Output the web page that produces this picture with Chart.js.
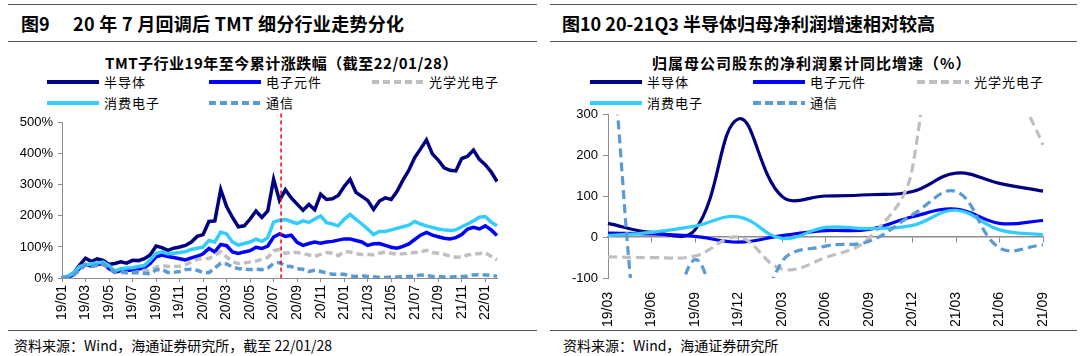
<!DOCTYPE html>
<html><head><meta charset="utf-8">
<script src="https://cdn.jsdelivr.net/npm/chart.js@4.4.1/dist/chart.umd.min.js"></script>
<style>
html,body{margin:0;padding:0;background:#fff;width:1080px;height:356px;overflow:hidden;font-family:"Noto Sans CJK SC","Liberation Sans",sans-serif;color:#000;}
.rule{position:absolute;height:0;border-top:1.5px solid #555;}
.txt{position:absolute;white-space:pre;line-height:1;}
.hdr{font-weight:700;font-size:18px;}
.ttl{font-weight:700;font-size:15px;}
.leg{font-size:13px;}
.foot{font-size:14px;}
.sw{position:absolute;height:4px;}
canvas{position:absolute;}
</style></head><body>
<div class="rule" style="left:8px;top:4px;width:529px"></div>
<div class="rule" style="left:8px;top:41px;width:529px"></div>
<div class="rule" style="left:8px;top:330px;width:529px"></div>
<div class="rule" style="left:550px;top:4px;width:527px"></div>
<div class="rule" style="left:550px;top:41px;width:527px"></div>
<div class="rule" style="left:550px;top:330px;width:527px"></div>

<div class="txt hdr" style="left:21px;top:14px">图9</div>
<div class="txt hdr" style="left:73px;top:14px;letter-spacing:0.3px">20 年 7 月回调后 TMT 细分行业走势分化</div>
<div class="txt hdr" style="left:562px;top:14px">图10 20-21Q3 半导体归母净利润增速相对较高</div>
<div class="txt ttl" style="left:105px;top:55px;letter-spacing:0.5px">TMT子行业19年至今累计涨跌幅（截至22/01/28）</div>
<div class="txt ttl" style="left:652px;top:55px;letter-spacing:1px">归属母公司股东的净利润累计同比增速（%）</div>
<div class="txt foot" style="left:14px;top:338px">资料来源：Wind，海通证券研究所，截至 22/01/28</div>
<div class="txt foot" style="left:563px;top:338px">资料来源：Wind，海通证券研究所</div>

<div id="leg9"></div>
<div id="leg10"></div>
<canvas id="c9" width="540" height="212" style="left:0px;top:110px"></canvas>
<canvas id="c10" width="540" height="224" style="left:540px;top:102px"></canvas>

<script>
// ===================== 图9 data =====================
const dates9 = [
'19/01/01','19/01/16','19/02/01','19/02/16','19/03/01','19/03/16','19/04/01','19/04/16','19/05/01','19/05/16','19/06/01','19/06/16',
'19/07/01','19/07/16','19/08/01','19/08/16','19/09/01','19/09/16','19/10/01','19/10/16','19/11/01','19/11/16','19/12/01','19/12/16',
'20/01/01','20/01/16','20/02/01','20/02/16','20/03/01','20/03/16','20/04/01','20/04/16','20/05/01','20/05/16','20/06/01','20/06/16',
'20/07/01','20/07/16','20/08/01','20/08/16','20/09/01','20/09/16','20/10/01','20/10/16','20/11/01','20/11/16','20/12/01','20/12/16',
'21/01/01','21/01/16','21/02/01','21/02/16','21/03/01','21/03/16','21/04/01','21/04/16','21/05/01','21/05/16','21/06/01','21/06/16',
'21/07/01','21/07/16','21/08/01','21/08/16','21/09/01','21/09/16','21/10/01','21/10/16','21/11/01','21/11/16','21/12/01','21/12/16',
'22/01/01','22/01/16','22/01/28'];
// cumulative change, %
const semi9 = [0,5,16,42,64,53,62,57,44,47,52,48,57,56,62,74,103,98,89,96,100,105,116,134,
  140,182,184,285,230,195,165,168,190,216,195,216,318,250,284,258,238,218,237,220,270,253,255,266,
  295,318,276,263,250,221,248,258,253,279,315,347,388,416,445,400,380,355,347,345,385,392,412,382,
  365,342,311];
const comp9 = [0,4,10,32,44,38,44,46,30,18,24,25,26,29,33,47,68,74,69,66,62,58,65,70,
  78,95,84,108,104,84,79,84,88,99,95,103,132,142,134,138,115,105,111,116,112,116,118,122,
  126,126,121,116,105,110,111,105,99,96,102,110,124,138,147,138,133,128,126,130,140,158,163,158,
  168,155,137];
const optic9 = [0,4,10,32,42,42,38,42,40,22,16,18,16,20,25,23,35,40,37,37,38,42,52,60,
  63,63,74,84,68,53,46,48,52,55,60,66,88,92,79,84,82,79,74,69,76,82,80,72,
  85,84,78,76,76,75,80,84,80,77,78,80,82,84,89,82,80,76,70,67,68,74,77,79,
  81,70,58];
const cons9 = [0,6,16,37,42,46,48,51,40,22,30,32,33,37,40,58,79,84,78,80,82,85,92,96,
  100,121,116,148,142,116,106,111,116,125,118,130,180,186,188,182,175,184,179,190,200,178,174,168,
  189,205,189,174,158,140,150,150,155,160,165,170,182,174,168,163,158,155,153,155,165,174,184,196,
  198,180,168];
const comm9 = [0,4,10,26,42,37,42,45,30,19,21,17,18,17,15,14,26,28,18,18,21,27,28,25,
  18,17,32,47,45,36,30,29,27,28,27,32,47,50,38,37,30,28,21,25,21,16,12,12,
  12,7,5,7,5,4,2,2,3,3,4,5,6,10,8,5,5,3,3,4,5,6,10,11,
  10,8,6];
const yTicks9 = [0,100,200,300,400,500];
const markerDate9 = '20/07/20';

// ===================== 图10 data =====================
const quarters10 = ['19/03','19/06','19/09','19/12','20/03','20/06','20/09','20/12','21/03','21/06','21/09'];
const semi10  = [34, 12, 18, 290, 100, 101, 104, 112, 157, 132, 113];
const comp10  = [10, 8, 2, -12, 4, 16, 19, 50, 69, 34, 41];
const optic10 = [-48, -50, -46, 0, -78, -50, -2, 170, 1200, 480, 226];
const cons10  = [4, 12, 27, 50, -3, 24, 21, 29, 66, 18, 6];
const comm10  = [560, -400, -55, -350, -60, -22, -10, 55, 112, -26, -19];
const yTicks10 = [-100,0,100,200,300];

const seriesNames = ['半导体','电子元件','光学光电子','消费电子','通信'];
const seriesColors = ['#000080','#0000FF','#BFBFBF','#33CCFF','#5B9BD5'];
const seriesDashed = [false,false,true,false,true];

// ===================== helpers =====================
const AX = '#8c8c8c';
const tickFont = {family:'"Liberation Sans", Arial, sans-serif', size:13};
const xFont = {family:'"Liberation Sans", Arial, sans-serif', size:14};

function makeDatasets(arrs, width, dash){
  return arrs.map((d,i)=>({
    label: seriesNames[i], data: d, borderColor: seriesColors[i], backgroundColor: seriesColors[i],
    borderWidth: width, borderDash: seriesDashed[i] ? dash : [], pointRadius: 0, fill: false,
    order: arrs.length - 1 - i, borderCapStyle: 'butt'
  }));
}

function buildLegend(id, xs, ys, lineLen, textGap, dash){
  const el = document.getElementById(id);
  seriesNames.forEach((n,i)=>{
    const x = xs[i % 3], y = ys[Math.floor(i/3)];
    const sw = document.createElement('div');
    sw.className='sw';
    sw.style.left = x+'px'; sw.style.top = (y-2)+'px'; sw.style.width = lineLen+'px';
    if (seriesDashed[i]) {
      sw.style.background = `repeating-linear-gradient(90deg, ${seriesColors[i]} 0 ${dash[0]}px, transparent ${dash[0]}px ${dash[0]+dash[1]}px)`;
    } else sw.style.background = seriesColors[i];
    el.appendChild(sw);
    const t = document.createElement('div');
    t.className='txt leg'; t.textContent = n;
    t.style.left = (x+lineLen+textGap)+'px'; t.style.top = (y-7)+'px';
    t.style.letterSpacing = '1px';
    el.appendChild(t);
  });
}
buildLegend('leg9', [47,209,372], [82,103], 52, 5, [7,4]);
buildLegend('leg10', [590,753,917], [82,103], 52, 5, [8,4]);

// ===================== 图9 chart =====================
function isMajor9(i){
  const s = dates9[i]; if(!s) return false;
  return s.slice(6)==='01' && parseInt(s.slice(3,5),10)%2===1;
}
function markerIndex(){
  const [yy,mm,dd] = markerDate9.split('/');
  const base = dates9.indexOf(`${yy}/${mm}/${+dd>=16?'16':'01'}`);
  const startDay = +dd>=16?16:1;
  return base + (+dd - startDay)/15;
}
const markerPlugin = {
  id:'marker9',
  afterDatasetsDraw(chart){
    const {ctx, scales:{x,y}} = chart;
    const px = x.getPixelForValue(markerIndex());
    ctx.save();
    ctx.strokeStyle = '#FF0000'; ctx.lineWidth = 1.5; ctx.setLineDash([4,3]);
    ctx.beginPath(); ctx.moveTo(px, y.getPixelForValue(530)); ctx.lineTo(px, y.getPixelForValue(0)); ctx.stroke();
    ctx.restore();
  }
};
new Chart(document.getElementById('c9'), {
  type:'line',
  data:{labels: dates9, datasets: makeDatasets([semi9, comp9, optic9, cons9, comm9], 3.5, [7,4])},
  options:{
    responsive:false, animation:false, events:[],
    layout:{padding:{left:0,right:43,top:10,bottom:0}},
    plugins:{legend:{display:false}, tooltip:{enabled:false}},
    elements:{line:{tension:0}},
    scales:{
      x:{
        ticks:{autoSkip:false, minRotation:90, maxRotation:90, font:xFont, color:'#000', padding:3,
          callback:(v,i)=> isMajor9(i) ? dates9[i].slice(0,5) : ''},
        grid:{drawOnChartArea:false, tickLength:4, color:(c)=> isMajor9(c.index) ? AX : 'rgba(0,0,0,0)'},
        border:{color:AX},
        afterFit:(s)=>{ s.height = 44; }
      },
      y:{
        min: yTicks9[0], max: yTicks9[yTicks9.length-1],
        afterBuildTicks:(s)=>{ s.ticks = yTicks9.map(v=>({value:v})); },
        ticks:{font:tickFont, color:'#000', padding:5, callback:(v)=> v+'%'},
        grid:{drawOnChartArea:false, tickLength:4, color:AX},
        border:{color:AX},
        afterFit:(s)=>{ s.width = 62; }
      }
    }
  },
  plugins:[markerPlugin]
});

// ===================== 图10 chart =====================
new Chart(document.getElementById('c10'), {
  type:'line',
  data:{labels: quarters10, datasets: makeDatasets([semi10, comp10, optic10, cons10, comm10], 3.2, [9,5])},
  options:{
    responsive:false, animation:false, events:[],
    layout:{padding:{left:0,right:37,top:10,bottom:0}},
    plugins:{legend:{display:false}, tooltip:{enabled:false}},
    elements:{line:{tension:0.4, capBezierPoints:false}},
    scales:{
      x:{
        ticks:{autoSkip:false, minRotation:90, maxRotation:90, font:xFont, color:'#000', padding:6},
        grid:{display:false}, border:{display:false},
        afterFit:(s)=>{ s.height = 48; }
      },
      x0:{
        type:'category', axis:'x', position:{y:0},
        ticks:{display:false},
        grid:{drawOnChartArea:false, tickLength:5, color:AX},
        border:{color:AX, width:1.5}
      },
      y:{
        min: yTicks10[0], max: yTicks10[yTicks10.length-1],
        afterBuildTicks:(s)=>{ s.ticks = yTicks10.map(v=>({value:v})); },
        ticks:{font:tickFont, color:'#000', padding:5},
        grid:{drawOnChartArea:false, tickLength:5, color:AX},
        border:{color:AX},
        afterFit:(s)=>{ s.width = 68; }
      }
    }
  }
});
</script>
</body></html>
